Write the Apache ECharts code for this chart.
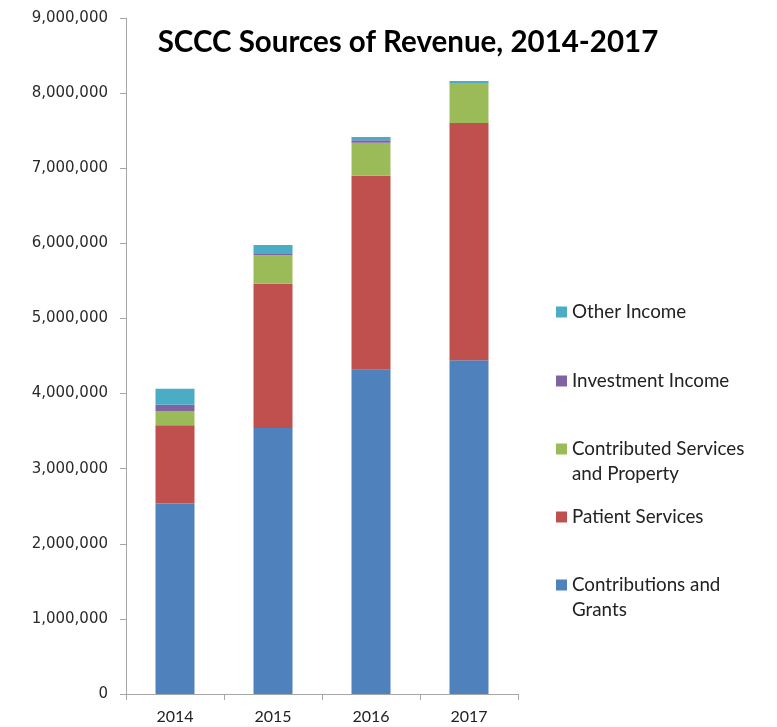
<!DOCTYPE html>
<html>
<head>
<meta charset="utf-8">
<script src="https://cdn.jsdelivr.net/npm/echarts@6/dist/echarts.min.js"></script>
<style>html,body{margin:0;padding:0;background:#fff;}#c{width:777px;height:727px;}</style>
</head>
<body>
<div id="c"></div>
<script>
var years = ['2014', '2015', '2016', '2017'];
var contributionsGrants = [2535000, 3540000, 4318000, 4443000];
var patientServices = [1042000, 1922000, 2583000, 3159000];
var contributedServices = [191000, 378000, 439000, 524000];
var investmentIncome = [84000, 17000, 32000, 0];
var otherIncome = [211000, 120000, 44000, 36000];
var yTicks = [0, 1000000, 2000000, 3000000, 4000000, 5000000, 6000000, 7000000, 8000000, 9000000];

var seriesNames = ['Contributions and Grants', 'Patient Services', 'Contributed Services and Property', 'Investment Income', 'Other Income'];
var seriesData = [contributionsGrants, patientServices, contributedServices, investmentIncome, otherIncome];
var colors = ['#4F81BD', '#C0504D', '#9BBB59', '#8064A2', '#4BACC6'];
var legendLabels = {
  'Contributions and Grants': ' \nContributions and\nGrants',
  'Contributed Services and Property': ' \nContributed Services\nand Property'
};

var chart = echarts.init(document.getElementById('c'));

var legendCenters = {
  'Other Income': 312,
  'Investment Income': 381,
  'Contributed Services and Property': 449,
  'Patient Services': 517,
  'Contributions and Grants': 585
};
var legends = seriesNames.map(function (n) {
  var multi = !!legendLabels[n];
  return {
    data: [n],
    left: 556,
    top: multi ? legendCenters[n] - 37.5 : legendCenters[n] - 12.5,
    orient: 'vertical',
    padding: 0,
    itemWidth: 11,
    itemHeight: 11,
    itemGap: 0,
    selectedMode: false,
    icon: 'rect',
    formatter: function (name) { return legendLabels[name] || name; },
    textStyle: {
      fontFamily: 'Lato',
      fontSize: 18.8,
      color: '#222',
      lineHeight: 25
    },
    itemStyle: { borderWidth: 0 }
  };
});

chart.setOption({
  animation: false,
  color: colors,
  title: {
    text: 'SCCC Sources of Revenue, 2014-2017',
    left: 403,
    textAlign: 'center',
    top: 22,
    textStyle: { fontFamily: 'Lato', fontWeight: 'bold', fontSize: 29.5, color: '#000' }
  },
  legend: legends,
  grid: { left: 126, right: 259, top: 18, bottom: 33, containLabel: false },
  xAxis: {
    type: 'category',
    data: years,
    axisLine: { lineStyle: { color: '#A6A6A6', width: 1 } },
    axisTick: { show: true, length: 6, lineStyle: { color: '#A6A6A6' } },
    axisLabel: { fontFamily: 'Lato', fontSize: 16, color: '#222', margin: 15 }
  },
  yAxis: {
    type: 'value',
    min: yTicks[0],
    max: yTicks[yTicks.length - 1],
    interval: yTicks[1] - yTicks[0],
    axisLine: { show: true, lineStyle: { color: '#A6A6A6', width: 1 } },
    axisTick: { show: true, length: 6, lineStyle: { color: '#A6A6A6' } },
    splitLine: { show: false },
    axisLabel: {
      fontFamily: 'DejaVu Sans',
      fontSize: 15,
      color: '#2a2a2a',
      margin: 18,
      formatter: function (v) { return v.toLocaleString('en-US'); }
    }
  },
  series: seriesNames.map(function (n, i) {
    return {
      name: n,
      type: 'bar',
      stack: 'total',
      barWidth: 39,
      data: seriesData[i],
      itemStyle: { color: colors[i] }
    };
  })
});
</script>
</body>
</html>
